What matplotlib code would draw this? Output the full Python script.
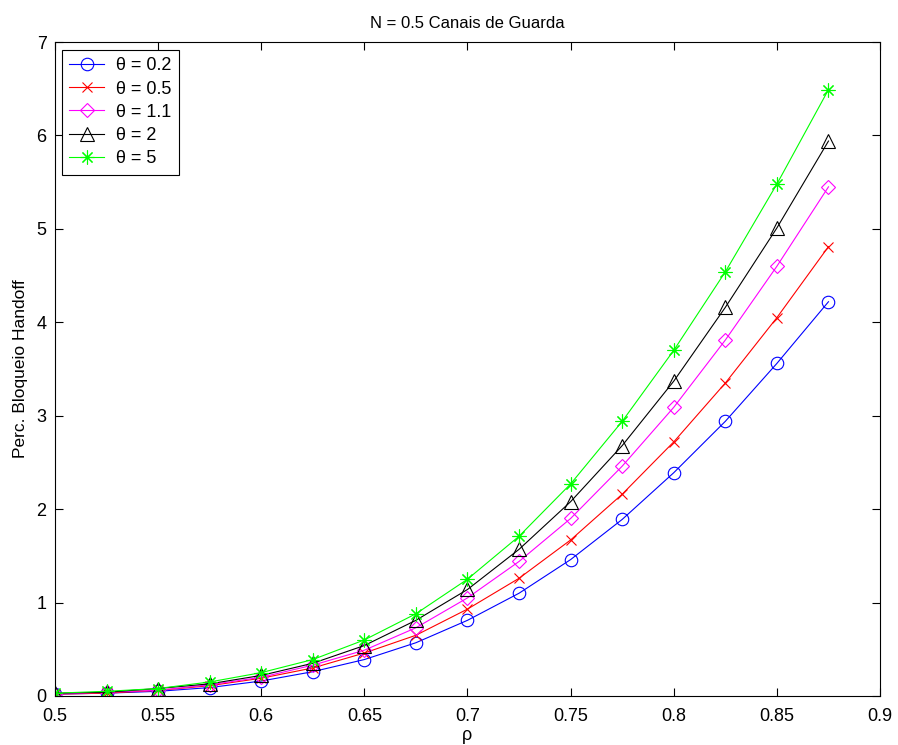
import matplotlib
matplotlib.use("Agg")
import matplotlib.pyplot as plt

plt.rcParams['font.family'] = ['Liberation Sans', 'DejaVu Sans']

rho = [0.5, 0.525, 0.55, 0.575, 0.6, 0.625, 0.65, 0.675, 0.7, 0.725, 0.75, 0.775, 0.8, 0.825, 0.85, 0.875]

theta_02 = [0.02, 0.03, 0.05, 0.09, 0.16, 0.26, 0.39, 0.57, 0.81, 1.10, 1.46, 1.89, 2.39, 2.94, 3.56, 4.22]
theta_05 = [0.02, 0.03, 0.06, 0.11, 0.19, 0.30, 0.46, 0.65, 0.93, 1.26, 1.67, 2.16, 2.72, 3.35, 4.05, 4.81]
theta_11 = [0.02, 0.04, 0.06, 0.12, 0.20, 0.33, 0.49, 0.73, 1.05, 1.44, 1.90, 2.46, 3.09, 3.81, 4.60, 5.45]
theta_2 = [0.03, 0.04, 0.08, 0.13, 0.22, 0.35, 0.54, 0.81, 1.14, 1.57, 2.08, 2.68, 3.37, 4.16, 5.01, 5.94]
theta_5 = [0.03, 0.05, 0.08, 0.15, 0.25, 0.39, 0.60, 0.88, 1.25, 1.71, 2.27, 2.94, 3.70, 4.54, 5.48, 6.49]

labels = ['θ = 0.2', 'θ = 0.5', 'θ = 1.1', 'θ = 2', 'θ = 5']
xticks = [0.5, 0.55, 0.6, 0.65, 0.7, 0.75, 0.8, 0.85, 0.9]
xticklabels = ['0.5', '0.55', '0.6', '0.65', '0.7', '0.75', '0.8', '0.85', '0.9']
yticks = [0, 1, 2, 3, 4, 5, 6, 7]

fig = plt.figure(figsize=(8.98, 7.45), dpi=100)
ax = fig.add_axes([0.0612, 0.0658, 0.9188, 0.8778])

series = [theta_02, theta_05, theta_11, theta_2, theta_5]
colors = ['#0000ff', '#ff0000', '#ff00ff', '#000000', '#00ff00']
markers = ['o', 'x', 'D', '^', (8, 2, 0)]
msizes = [9, 7, 7, 10, 10]

for y, c, m, ms, lab in zip(series, colors, markers, msizes, labels):
    ax.plot(rho, y, color=c, marker=m, markersize=ms, markerfacecolor='none',
            markeredgecolor=c, markeredgewidth=0.8, linewidth=0.8, label=lab)

ax.set_xlim(0.5, 0.9)
ax.set_ylim(0, 7)
ax.set_xticks(xticks)
ax.set_xticklabels(xticklabels)
ax.set_yticks(yticks)
ax.tick_params(direction='in', top=True, right=True, labelsize=13, length=6, width=0.8)
ax.tick_params(axis='x', pad=9)
ax.tick_params(axis='y', pad=6)
for s in ax.spines.values():
    s.set_linewidth(0.8)

ax.set_xlabel('ρ', fontsize=13, labelpad=1)
ax.set_ylabel('Perc. Bloqueio Handoff', fontsize=12.5, labelpad=6)
ax.set_title('N = 0.5 Canais de Guarda', fontsize=12, pad=10)

leg = ax.legend(loc='upper left', bbox_to_anchor=(0.008, 0.988), borderaxespad=0,
                fancybox=False, edgecolor='black', framealpha=1, fontsize=13,
                handlelength=1.95, handletextpad=0.65, labelspacing=0.34, borderpad=0.42)
leg.get_frame().set_linewidth(0.8)

fig.savefig('out.png', dpi=100)
